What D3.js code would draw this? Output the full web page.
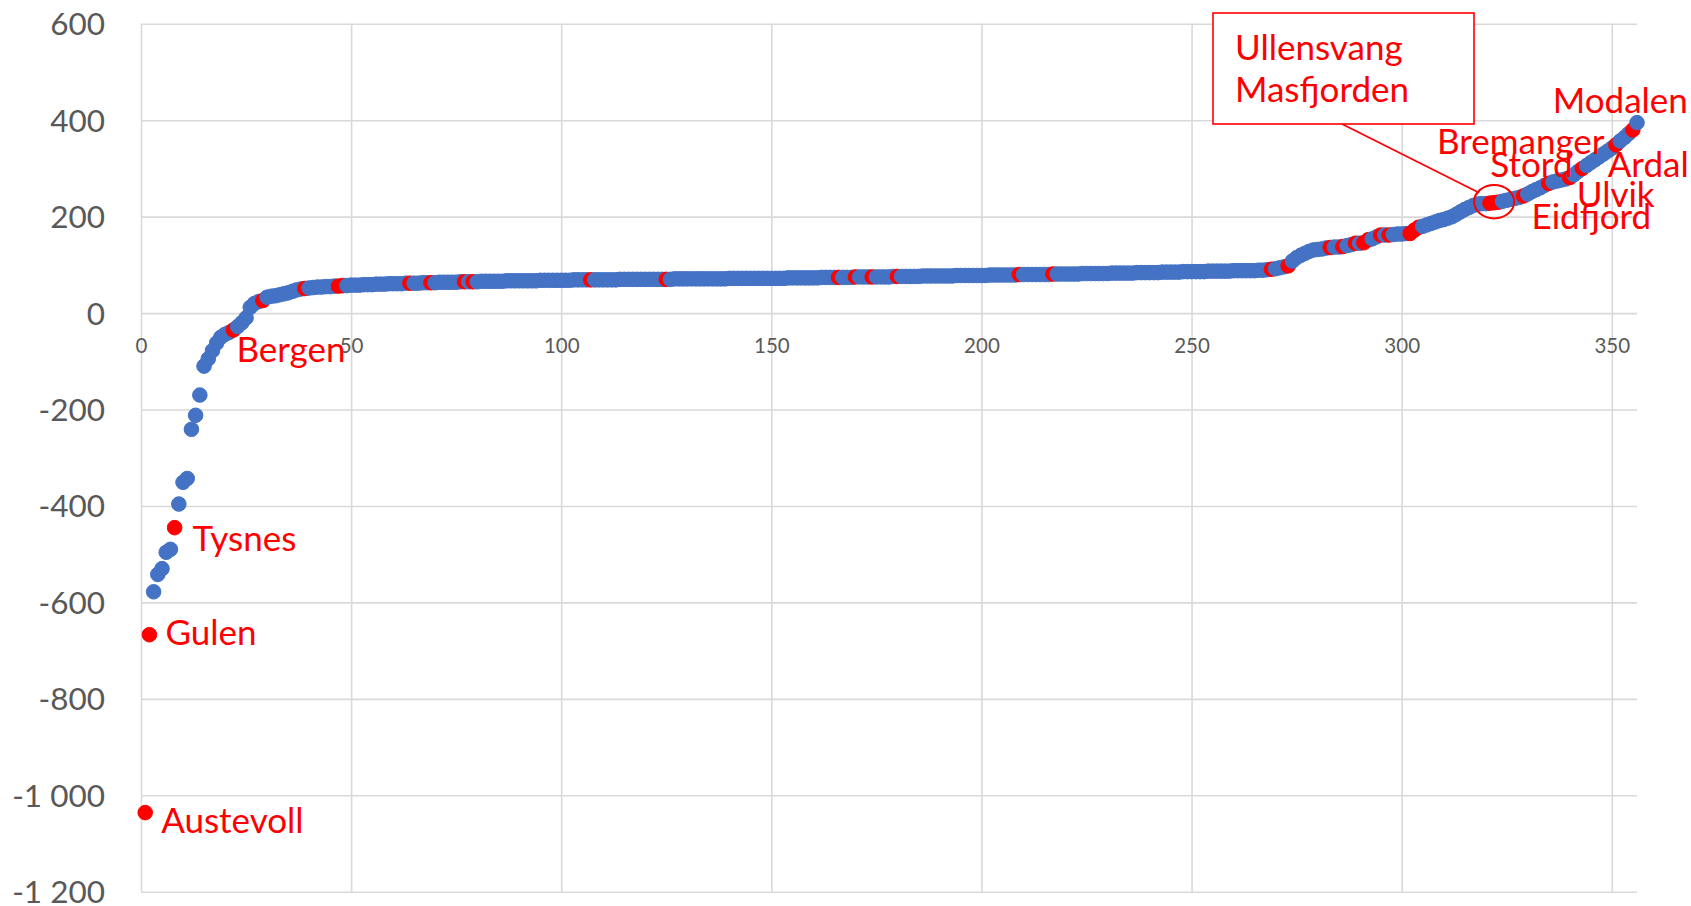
<!DOCTYPE html>
<html>
<head>
<meta charset="utf-8">
<script src="https://cdn.jsdelivr.net/npm/d3@7"></script>
<style>
  html, body { margin: 0; padding: 0; background: #ffffff; }
  svg { display: block; }
  text { font-family: Lato, "Noto Sans", sans-serif; }
</style>
</head>
<body>
<svg id="chart" width="1691" height="906"></svg>
<script>
// ---- data (value per municipality, sorted; rank = position in list, starting at 1) ----
const values = [
  -1036, -667, -578, -542, -530, -496, -490, -445, -396, -351,
  -343, -241, -212, -170, -110, -95, -78, -62, -50, -44,
  -40, -35, -28, -20, -10, 12, 20, 24, 26, 33,
  35, 36, 38, 40, 42, 45, 48, 50, 51, 52,
  53, 54, 54, 55, 55, 56, 56, 57, 57, 58,
  58, 58, 59, 59, 59, 60, 60, 60, 61, 61,
  61, 61, 62, 62, 62, 62, 63, 63, 63, 63,
  64, 64, 64, 64, 64, 65, 65, 65, 65, 65,
  66, 66, 66, 66, 66, 66, 67, 67, 67, 67,
  67, 67, 67, 67, 68, 68, 68, 68, 68, 68,
  68, 68, 69, 69, 69, 69, 69, 69, 69, 69,
  69, 69, 69, 70, 70, 70, 70, 70, 70, 70,
  70, 70, 70, 70, 70, 70, 71, 71, 71, 71,
  71, 71, 71, 71, 71, 71, 71, 71, 71, 72,
  72, 72, 72, 72, 72, 72, 72, 72, 72, 72,
  72, 72, 72, 73, 73, 73, 73, 73, 73, 73,
  73, 74, 74, 74, 74, 74, 74, 74, 74, 75,
  75, 75, 75, 75, 75, 75, 75, 75, 76, 76,
  76, 76, 76, 76, 76, 77, 77, 77, 77, 77,
  77, 77, 77, 78, 78, 78, 78, 78, 78, 78,
  78, 79, 79, 79, 79, 79, 79, 79, 80, 80,
  80, 80, 80, 80, 80, 80, 81, 81, 81, 81,
  81, 81, 81, 82, 82, 82, 82, 82, 82, 82,
  83, 83, 83, 83, 83, 83, 84, 84, 84, 84,
  84, 84, 85, 85, 85, 85, 85, 86, 86, 86,
  86, 86, 86, 87, 87, 87, 87, 87, 87, 88,
  88, 88, 88, 88, 88, 89, 89, 90, 91, 92,
  94, 96, 98, 108, 115, 120, 124, 128, 131, 132,
  133, 135, 136, 137, 137, 138, 140, 142, 145, 145,
  146, 152, 154, 158, 162, 162, 162, 163, 164, 164,
  165, 165, 172, 178, 180, 183, 186, 189, 192, 194,
  197, 200, 205, 210, 215, 219, 223, 226, 227, 227,
  228, 229, 230, 232, 234, 236, 238, 240, 243, 247,
  252, 256, 260, 265, 269, 272, 274, 276, 278, 281,
  287, 294, 300, 306, 312, 318, 324, 330, 336, 342,
  349, 357, 364, 372, 380, 395
];

// ranks of the highlighted (red) municipalities
const highlighted = [
  1, 2, 8, 22, 29, 39, 47, 48, 64, 69, 77, 79, 107, 125,
  166, 170, 174, 180, 209, 217, 269, 273, 283, 286, 289, 291, 292,
  295, 297, 302, 303, 304, 321, 322, 323, 329, 335, 340, 343, 351, 355
];

const xTicks = [0, 50, 100, 150, 200, 250, 300, 350];
const yTicks = [-1200, -1000, -800, -600, -400, -200, 0, 200, 400, 600];
const yTickLabels = ["-1 200", "-1 000", "-800", "-600", "-400", "-200", "0", "200", "400", "600"];

// labelled municipalities: name and its rank
const labelNames = ["Austevoll", "Gulen", "Tysnes", "Bergen", "Modalen", "Bremanger", "Stord", "Ardal", "Ulvik", "Eidfjord"];
const labelRanks = [1, 2, 8, 22, 355, 351, 343, 340, 335, 329];
const calloutNames = ["Ullensvang", "Masfjorden"];
const calloutRank = 322;

// ---- layout ----
const svg = d3.select("#chart");
const W = 1691, H = 906;
svg.append("rect").attr("width", W).attr("height", H).attr("fill", "#ffffff");

const x = d3.scaleLinear().domain([0, 356]).range([141, 1637]);
const y = d3.scaleLinear().domain([-1200, 600]).range([891.7, 23.8]);

const gridColor = "#D9D9D9";
const textColor = "#595959";
const blue = "#4472C4";
const red = "#FF0000";

// horizontal gridlines + y labels
const yAxis = d3.axisLeft(y)
  .tickValues(yTicks)
  .tickSize(-(x.range()[1] - x.range()[0]))
  .tickPadding(36)
  .tickFormat((d, i) => yTickLabels[i]);
const gy = svg.append("g").attr("transform", `translate(${x(0)},0)`).call(yAxis);
gy.select(".domain").remove();
gy.selectAll(".tick line").attr("stroke", gridColor).attr("stroke-width", 1.6);
gy.selectAll(".tick text")
  .attr("fill", textColor)
  .attr("dy", "0.35em")
  .style("font-size", "31.5px")
  .style("font-family", "Lato, 'Noto Sans', sans-serif");

// vertical gridlines
const xGrid = d3.axisBottom(x)
  .tickValues(xTicks)
  .tickSize(-(y.range()[0] - y.range()[1]))
  .tickFormat("");
const gxg = svg.append("g").attr("transform", `translate(0,${y(-1200)})`).call(xGrid);
gxg.select(".domain").remove();
gxg.selectAll(".tick line").attr("stroke", gridColor).attr("stroke-width", 1.6);

// x labels next to the zero line
const xAxis = d3.axisBottom(x)
  .tickValues(xTicks)
  .tickSize(0)
  .tickPadding(25)
  .tickFormat(d3.format("d"));
const gx = svg.append("g").attr("transform", `translate(0,${y(0)})`).call(xAxis);
gx.select(".domain").remove();
gx.selectAll(".tick text")
  .attr("fill", textColor)
  .style("font-size", "20.5px")
  .style("font-family", "Lato, 'Noto Sans', sans-serif");

// points, drawn in rank order (later points overlap earlier ones)
const redSet = new Set(highlighted);
const pts = values.map((v, i) => ({ rank: i + 1, value: v }));
svg.append("g")
  .selectAll("circle")
  .data(pts)
  .join("circle")
  .attr("cx", d => x(d.rank))
  .attr("cy", d => y(d.value))
  .attr("r", 7.3)
  .attr("fill", d => redSet.has(d.rank) ? red : blue)
  .attr("stroke", d => redSet.has(d.rank) ? red : blue)
  .attr("stroke-width", 1);

// labels (pixel offsets from their point)
const labelOffsets = [
  [16, 20], [16, 10], [18, 23], [3, 32], [-80, -17], [-179, 9], [-92, 9], [38, -1], [28, 24], [8, 33]
];
const labelFont = 35;
const gl = svg.append("g");
labelNames.forEach((name, i) => {
  const r = labelRanks[i];
  const v = values[r - 1];
  gl.append("text")
    .attr("x", x(r) + labelOffsets[i][0])
    .attr("y", y(v) + labelOffsets[i][1])
    .attr("fill", red)
    .style("font-size", labelFont + "px")
    .text(name);
});

// callout with box, leader line and ellipse
const cx = x(calloutRank), cy = y(values[calloutRank - 1]);
const gc = svg.append("g");
gc.append("line")
  .attr("x1", 1342).attr("y1", 124)
  .attr("x2", cx - 15).attr("y2", cy - 10)
  .attr("stroke", red).attr("stroke-width", 1.8);
gc.append("rect")
  .attr("x", 1213).attr("y", 13).attr("width", 261).attr("height", 111)
  .attr("fill", "#ffffff").attr("stroke", red).attr("stroke-width", 1.6);
gc.append("ellipse")
  .attr("cx", cx).attr("cy", cy - 1)
  .attr("rx", 20).attr("ry", 16.7)
  .attr("fill", "none").attr("stroke", red).attr("stroke-width", 2);
calloutNames.forEach((name, i) => {
  gc.append("text")
    .attr("x", 1235)
    .attr("y", 60 + i * 42)
    .attr("fill", red)
    .style("font-size", labelFont + "px")
    .text(name);
});
</script>
</body>
</html>
